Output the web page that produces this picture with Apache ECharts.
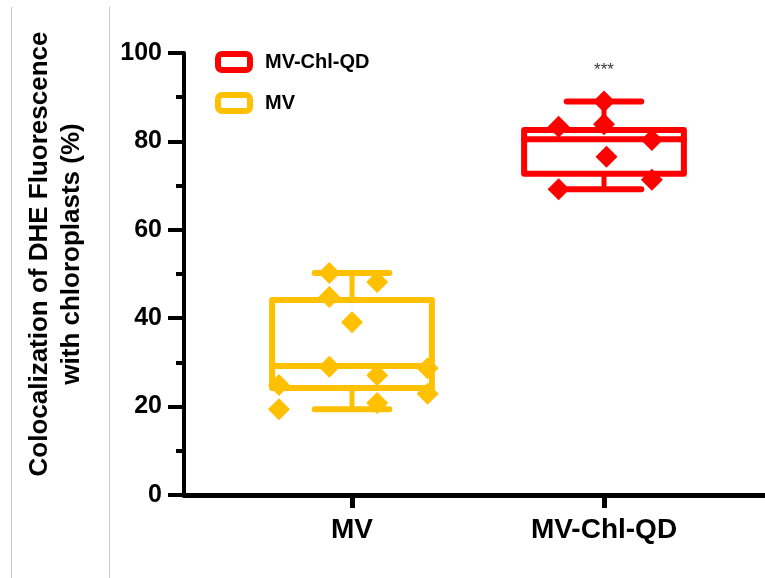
<!DOCTYPE html>
<html>
<head>
<meta charset="utf-8">
<script src="https://cdn.jsdelivr.net/npm/echarts@6/dist/echarts.min.js"></script>
<style>
  html, body { margin: 0; padding: 0; background: #ffffff; }
  #chart { width: 765px; height: 578px; }
</style>
</head>
<body>
<div id="chart"></div>
<script>
// Groups and their positions on the x scale
const groups = ['MV', 'MV-Chl-QD'];
const groupPos = [1, 2];

// Box summaries per group: [min, Q1, median, Q3, max]
const mvBox = [19.4, 24.2, 29.2, 44.1, 50.2];
const qdBox = [69.2, 72.7, 80.5, 82.6, 89.0];

// Individual measurements and their horizontal spread inside each group
const mvValues = [50.2, 44.8, 48.2, 39.1, 29.0, 27.1, 28.7, 24.9, 19.4, 20.8, 22.9];
const mvJitter = [-0.09, -0.09, 0.10, 0.0, -0.09, 0.10, 0.30, -0.29, -0.29, 0.10, 0.30];
const qdValues = [83.3, 89.0, 83.9, 76.5, 80.3, 71.3, 69.2];
const qdJitter = [-0.18, 0.0, 0.0, 0.01, 0.19, 0.19, -0.18];

// Y tick labels and significance marks per group
const yTicks = [0, 20, 40, 60, 80, 100];
const sigMarks = ['', '***'];

const RED = '#ff0000';
const GOLD = '#ffc000';
const FONT = '"Liberation Sans", Arial, sans-serif';

function boxRenderer(params, api) {
  const x = api.value(0);
  const yMin = api.coord([x, api.value(1)])[1];
  const yQ1 = api.coord([x, api.value(2)])[1];
  const yMed = api.coord([x, api.value(3)])[1];
  const yQ3 = api.coord([x, api.value(4)])[1];
  const yMax = api.coord([x, api.value(5)])[1];
  const cx = api.coord([x, 0])[0];
  const halfBox = api.size([0.317, 0])[0];
  const halfCap = api.size([0.148, 0])[0];
  const color = api.visual('color');
  const lineStyle = { stroke: color, lineWidth: 6, lineCap: 'round', lineJoin: 'round', fill: null };
  return {
    type: 'group',
    children: [
      { type: 'rect', shape: { x: cx - halfBox, y: yQ3, width: 2 * halfBox, height: yQ1 - yQ3 }, style: lineStyle },
      { type: 'line', shape: { x1: cx - halfBox, y1: yMed, x2: cx + halfBox, y2: yMed }, style: lineStyle },
      { type: 'line', shape: { x1: cx, y1: yQ3, x2: cx, y2: yMax }, style: Object.assign({}, lineStyle, { lineWidth: 5 }) },
      { type: 'line', shape: { x1: cx, y1: yQ1, x2: cx, y2: yMin }, style: Object.assign({}, lineStyle, { lineWidth: 5 }) },
      { type: 'line', shape: { x1: cx - halfCap, y1: yMax, x2: cx + halfCap, y2: yMax }, style: lineStyle },
      { type: 'line', shape: { x1: cx - halfCap, y1: yMin, x2: cx + halfCap, y2: yMin }, style: lineStyle }
    ]
  };
}

function points(values, jitter, pos) {
  return values.map((v, i) => [pos + jitter[i], v]);
}

const chart = echarts.init(document.getElementById('chart'), null, { renderer: 'canvas' });

chart.setOption({
  animation: false,
  backgroundColor: '#ffffff',
  textStyle: { fontFamily: FONT },
  graphic: [
    { type: 'line', shape: { x1: 11.5, y1: 7, x2: 11.5, y2: 578 }, style: { stroke: '#c8c8c8', lineWidth: 1 } },
    { type: 'line', shape: { x1: 109.5, y1: 7, x2: 109.5, y2: 578 }, style: { stroke: '#c8c8c8', lineWidth: 1 } }
  ],
  legend: {
    orient: 'vertical',
    left: 215,
    top: 51,
    padding: 0,
    itemWidth: 32,
    itemHeight: 16,
    itemGap: 19,
    selectedMode: false,
    textStyle: { fontSize: 20, fontWeight: 'bold', color: '#000', fontFamily: FONT, lineHeight: 16, padding: [0, 0, 0, 10] },
    data: [
      { name: 'MV-Chl-QD', icon: 'roundRect', itemStyle: { color: '#ffffff', borderColor: RED, borderWidth: 6, opacity: 1 } },
      { name: 'MV', icon: 'roundRect', itemStyle: { color: '#ffffff', borderColor: GOLD, borderWidth: 6, opacity: 1 } }
    ]
  },
  grid: { left: 184, right: 0, top: 53, bottom: 83, containLabel: false },
  xAxis: {
    type: 'value',
    min: 1 - 168 / 252,
    max: 2 + 161 / 252,
    axisLine: { show: true, onZero: false, lineStyle: { color: '#000', width: 5 } },
    axisTick: { show: true, customValues: groupPos, length: 13, lineStyle: { color: '#000', width: 5 } },
    axisLabel: {
      customValues: groupPos,
      formatter: v => groups[groupPos.indexOf(Math.round(v))],
      fontSize: 28, fontWeight: 'bold', color: '#000', margin: 21, fontFamily: FONT
    },
    splitLine: { show: false }
  },
  yAxis: {
    type: 'value',
    min: 0,
    max: 100,
    interval: 20,
    axisLine: { show: true, lineStyle: { color: '#000', width: 4 } },
    axisTick: { show: true, length: 16, lineStyle: { color: '#000', width: 4 } },
    minorTick: { show: true, splitNumber: 2, length: 8, lineStyle: { color: '#000', width: 4 } },
    axisLabel: {
      fontSize: 25, fontWeight: 'bold', color: '#000', margin: 22, fontFamily: FONT,
      formatter: v => (yTicks.indexOf(v) >= 0 ? String(v) : '')
    },
    splitLine: { show: false },
    name: 'Colocalization of DHE Fluorescence\nwith chloroplasts (%)',
    nameLocation: 'middle',
    nameRotate: 90,
    nameGap: 96,
    nameTextStyle: { fontSize: 26, fontWeight: 'bold', color: '#000', lineHeight: 32, fontFamily: FONT, padding: [0, 0, 0, 40] }
  },
  series: [
    {
      name: 'MV',
      type: 'custom',
      renderItem: boxRenderer,
      itemStyle: { color: GOLD },
      encode: { x: 0, y: [1, 2, 3, 4, 5] },
      data: [[groupPos[0]].concat(mvBox)],
      z: 2
    },
    {
      name: 'MV-Chl-QD',
      type: 'custom',
      renderItem: boxRenderer,
      itemStyle: { color: RED },
      encode: { x: 0, y: [1, 2, 3, 4, 5] },
      data: [[groupPos[1]].concat(qdBox)],
      z: 2
    },
    {
      name: 'MV',
      type: 'scatter',
      symbol: 'diamond',
      symbolSize: 22,
      itemStyle: { color: GOLD, opacity: 1 },
      data: points(mvValues, mvJitter, groupPos[0]),
      z: 3
    },
    {
      name: 'MV-Chl-QD',
      type: 'scatter',
      symbol: 'diamond',
      symbolSize: 22,
      itemStyle: { color: RED, opacity: 1 },
      data: points(qdValues, qdJitter, groupPos[1]),
      z: 3
    },
    {
      name: 'significance',
      type: 'scatter',
      symbolSize: 0,
      silent: true,
      data: groupPos.map((p, i) => ({ value: [p, 96], label: { show: sigMarks[i] !== '', formatter: sigMarks[i] } })),
      label: { position: 'inside', fontSize: 17, color: '#000', fontFamily: FONT },
      z: 4
    }
  ]
});
</script>
</body>
</html>
